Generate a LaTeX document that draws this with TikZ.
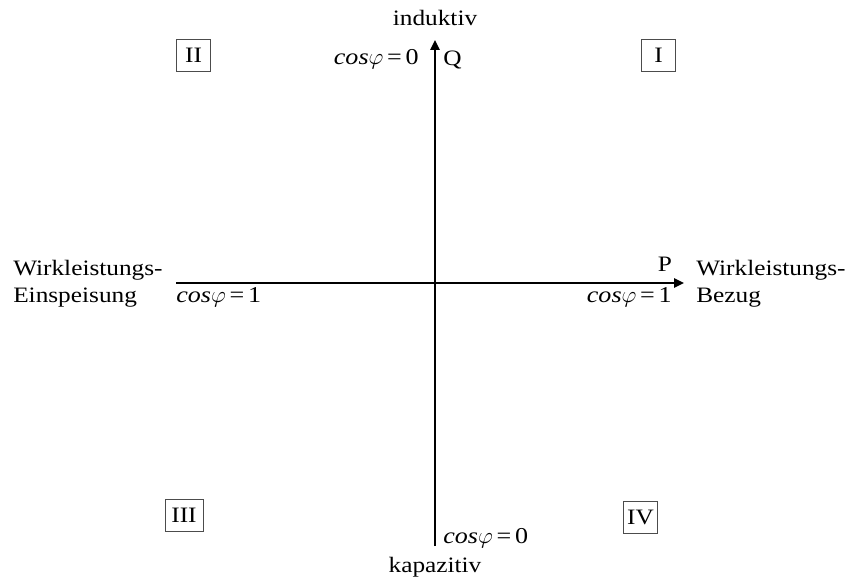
\documentclass[tikz,border=0pt]{standalone}
\usepackage{fontspec}
\setmainfont{Liberation Serif}[FakeStretch=1.15]
\usepackage{tikz}
\usetikzlibrary{arrows.meta}
\tikzset{
  axis/.style={line width=1.5pt, -{Triangle[length=7.5pt,width=7pt]}},
  quadrant/.style={draw=black!70, line width=0.6pt, inner sep=2pt, minimum width=25pt, minimum height=24pt},
  lbl/.style={inner sep=0pt},
  cosphi/.style={inner sep=0pt, font=\fontsize{17}{20}\selectfont},
}
\newcommand{\cosphi}[1]{\textit{cos}$\varphi$\,=\,#1}

\begin{document}
\begin{tikzpicture}[x=0.75pt, y=-0.75pt, font=\fontsize{16.5}{20.25}\selectfont]
  \useasboundingbox (0,0) rectangle (846,577);
  \coordinate (pstart) at (176,283);
  \coordinate (ptip) at (684,283);
  \coordinate (qstart) at (435,546);
  \coordinate (qtip) at (435,40);
  \draw[axis] (pstart) -- (ptip);
  \draw[axis] (qstart) -- (qtip);
  \node[lbl, anchor=base] (ind) at (435,26) {induktiv};
  \node[lbl, anchor=base] (kap) at (435,572) {kapazitiv};
  \node[lbl, anchor=base west] (q) at (443,66) {Q};
  \node[lbl, anchor=base] (p) at (665,272) {P};
  \node[cosphi, anchor=base east] (cq0) at (419,65) {\cosphi{0}};
  \node[cosphi, anchor=base west] (cq1) at (443,543) {\cosphi{0}};
  \node[cosphi, anchor=base west] (cp1) at (176,302) {\cosphi{1}};
  \node[cosphi, anchor=base east] (cp2) at (672,302) {\cosphi{1}};
  \node[lbl, anchor=base west, align=left] (einsp) at (13,302) {Wirkleistungs-\\Einspeisung};
  \node[lbl, anchor=base west, align=left] (bezug) at (696,302) {Wirkleistungs-\\Bezug};
  % Quadranten
  \node[quadrant] (qI) at (658.5,55.5) {I};
  \node[quadrant] (qII) at (193.5,55.5) {II};
  \node[quadrant, minimum width=28.5pt] (qIII) at (184,515) {III};
  \node[quadrant] (qIV) at (640.5,517.5) {IV};
\end{tikzpicture}
\end{document}
